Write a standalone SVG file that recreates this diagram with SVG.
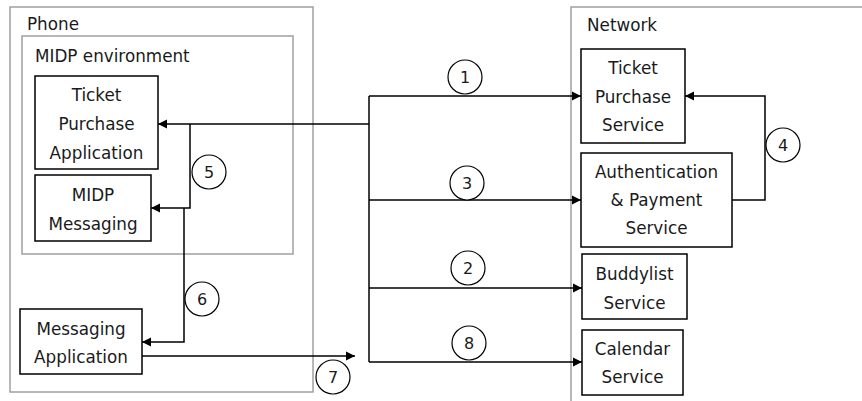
<svg xmlns="http://www.w3.org/2000/svg" width="862" height="401" viewBox="0 0 862 401">
<style>
.cont{fill:none;stroke:#a0a0a0;stroke-width:1.5}
.box{fill:#fff;stroke:#000;stroke-width:1.5}
.ln{fill:none;stroke:#000;stroke-width:1.5}
.circ{fill:#fff;stroke:#000;stroke-width:1.2}
text{font-family:"DejaVu Sans","Liberation Sans",sans-serif;font-size:16.8px;fill:#1a1a1a}
.c{text-anchor:middle}
.n{text-anchor:middle;font-size:16px}
</style>
<defs>
<marker id="ah" markerUnits="userSpaceOnUse" markerWidth="10" markerHeight="10" refX="9" refY="5" orient="auto">
<path d="M0,0.5 L9,5 L0,9.5 Z" fill="#000"/>
</marker>
</defs>
<rect width="862" height="401" fill="#fff"/>
<g id="phone">
<rect class="cont" x="10" y="7" width="303" height="385"/>
<text x="27" y="30">Phone</text>
</g>
<g id="midp-env">
<rect class="cont" x="22" y="36" width="271" height="218"/>
<text x="35" y="62">MIDP environment</text>
</g>
<g id="network">
<path class="cont" d="M571,401 V7 H862"/>
<text x="587" y="31">Network</text>
</g>
<g id="ticket-app">
<rect class="box" x="35" y="76" width="123" height="93"/>
<text class="c" x="96.5" y="101">Ticket</text>
<text class="c" x="96.5" y="130">Purchase</text>
<text class="c" x="96.5" y="159">Application</text>
</g>
<g id="midp-messaging">
<rect class="box" x="35" y="175" width="116" height="66"/>
<text class="c" x="93" y="201">MIDP</text>
<text class="c" x="93" y="230">Messaging</text>
</g>
<g id="messaging-app">
<rect class="box" x="20" y="309" width="122" height="65"/>
<text class="c" x="81" y="335">Messaging</text>
<text class="c" x="81" y="363">Application</text>
</g>
<g id="ticket-service">
<rect class="box" x="581" y="49" width="104" height="94"/>
<text class="c" x="633" y="74">Ticket</text>
<text class="c" x="633" y="103">Purchase</text>
<text class="c" x="633" y="131">Service</text>
</g>
<g id="auth-service">
<rect class="box" x="581" y="153" width="151" height="94"/>
<text class="c" x="656.5" y="178">Authentication</text>
<text class="c" x="656.5" y="206">&amp; Payment</text>
<text class="c" x="656.5" y="234">Service</text>
</g>
<g id="buddylist-service">
<rect class="box" x="582" y="254" width="105" height="65"/>
<text class="c" x="634.5" y="280">Buddylist</text>
<text class="c" x="634.5" y="309">Service</text>
</g>
<g id="calendar-service">
<rect class="box" x="582" y="330" width="101" height="65"/>
<text class="c" x="632.5" y="355">Calendar</text>
<text class="c" x="632.5" y="383">Service</text>
</g>
<g id="connectors">
<path class="ln" d="M369,124 H158" marker-end="url(#ah)"/>
<path class="ln" d="M369,96 V362"/>
<path class="ln" d="M369,96 H581" marker-end="url(#ah)"/>
<path class="ln" d="M369,200 H581" marker-end="url(#ah)"/>
<path class="ln" d="M369,288 H582" marker-end="url(#ah)"/>
<path class="ln" d="M369,362 H582" marker-end="url(#ah)"/>
<path class="ln" d="M190,124 V208 H151" marker-end="url(#ah)"/>
<path class="ln" d="M184,208 V342 H142" marker-end="url(#ah)"/>
<path class="ln" d="M142,356 H355" marker-end="url(#ah)"/>
<path class="ln" d="M732,200 H765 V96 H685" marker-end="url(#ah)"/>
</g>
<g id="labels">
<circle class="circ" cx="465" cy="77" r="17"/><text class="n" x="465" y="83">1</text>
<circle class="circ" cx="467" cy="183" r="17"/><text class="n" x="467" y="189">3</text>
<circle class="circ" cx="468" cy="268" r="17"/><text class="n" x="468" y="274">2</text>
<circle class="circ" cx="469" cy="343" r="17"/><text class="n" x="469" y="349">8</text>
<circle class="circ" cx="783" cy="145" r="17"/><text class="n" x="783" y="151">4</text>
<circle class="circ" cx="209" cy="172" r="17"/><text class="n" x="209" y="178">5</text>
<circle class="circ" cx="202" cy="299" r="17"/><text class="n" x="202" y="305">6</text>
<circle class="circ" cx="333" cy="377" r="17"/><text class="n" x="333" y="383">7</text>
</g>
</svg>
